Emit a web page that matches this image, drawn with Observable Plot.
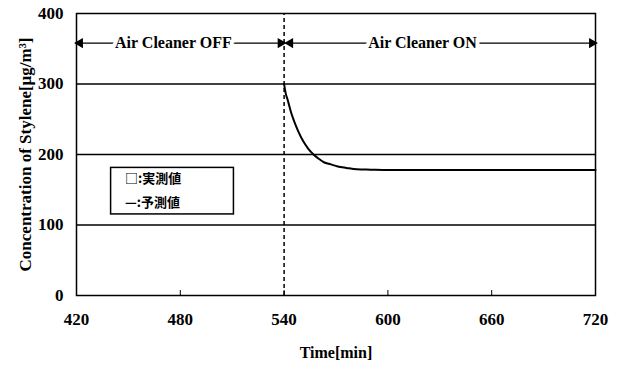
<!DOCTYPE html>
<html>
<head>
<meta charset="utf-8">
<script src="https://cdn.jsdelivr.net/npm/d3@7"></script>
<script src="https://cdn.jsdelivr.net/npm/@observablehq/plot@0.6"></script>
<style>
  html, body { margin: 0; padding: 0; background: white; }
  #chart svg, #chart svg text { font-family: "Liberation Serif", "Times New Roman", serif !important; }
  #chart svg text.cjk, #chart svg .cjk text { font-family: "Noto Sans CJK JP", sans-serif !important; }
  #chart g[aria-label="y-axis label"] text { font-size: 17px; }
  #chart g[aria-label="y-axis tick label"] text, #chart g[aria-label="x-axis tick label"] text { font-size: 17px; }
</style>
</head>
<body>
<div id="chart"></div>
<script>
// Predicted concentration (予測値) of styrene after air cleaner switched on
const times = [540, 541, 542, 544, 546, 548, 551, 554, 557, 560, 563, 567, 571, 576, 582, 590, 600, 640, 680, 720];
const conc  = [300, 286, 278, 260, 246, 234, 219, 208, 200, 194, 189, 186, 183, 181, 179, 178.5, 178, 178, 178, 178];
const xTicks = [420, 480, 540, 600, 660, 720];
const yTicks = [0, 100, 200, 300, 400];
const gridValues = [100, 200, 300];
const switchTime = 540;
const phaseLabels = ["Air Cleaner OFF", "Air Cleaner ON"];
const legendLabels = ["□:実測値", "—:予測値"];

const curve = times.map((t, i) => ({t, c: conc[i]}));

const arrowSegs = [{a: 420, b: switchTime}, {a: switchTime + 1.5, b: 720}];
const heads = [
  {x: 422, dir: -90}, {x: switchTime - 2, dir: 90},
  {x: switchTime + 3.5, dir: -90}, {x: 718, dir: 90}
];

const chart = Plot.plot({
  width: 626,
  height: 365,
  marginLeft: 76,
  marginRight: 31,
  marginTop: 13,
  marginBottom: 70,
  style: {fontSize: "16px", fontWeight: "bold", background: "white", color: "black"},
  x: {domain: [420, 720], ticks: xTicks, tickSize: 0, tickPadding: 17, label: "Time[min]", labelAnchor: "center", labelOffset: 62, labelArrow: "none"},
  y: {domain: [0, 400], ticks: yTicks, tickSize: 0, tickPadding: 13, label: "Concentration of Stylene[μg/m³]", labelAnchor: "center", labelOffset: 58, labelArrow: "none"},
  marks: [
    Plot.ruleY(gridValues, {stroke: "black", strokeWidth: 1.4}),
    Plot.ruleX(xTicks.slice(1, -1), {y1: 0, y2: 7, stroke: "black", strokeWidth: 1}),
    Plot.ruleX([switchTime], {y1: 0, y2: 400, stroke: "black", strokeWidth: 1.5, strokeDasharray: "4,3"}),
    // phase arrows
    Plot.link(arrowSegs, {x1: "a", x2: "b", y1: 358, y2: 358, stroke: "black", strokeWidth: 1.3}),
    Plot.dot(heads, {x: "x", y: 358, symbol: "triangle", rotate: "dir", r: 3.8, fill: "black", stroke: "none"}),
    Plot.text([{x: 476, label: phaseLabels[0]}, {x: 620, label: phaseLabels[1]}], {
      x: "x", y: 358, text: "label", fill: "black", stroke: "white", strokeWidth: 8,
      fontSize: 16, fontWeight: "bold"
    }),
    // legend box
    Plot.rect([{x1: 440, x2: 511, y1: 115, y2: 181}], {x1: "x1", x2: "x2", y1: "y1", y2: "y2", fill: "white", stroke: "black", strokeWidth: 1.5}),
    Plot.text(legendLabels, {
      x: 448, y: (d, i) => i === 0 ? 166 : 131, text: d => d, textAnchor: "start",
      fontSize: 13, fontWeight: "bold", fill: "black", className: "cjk"
    }),
    // predicted curve
    Plot.line(curve, {x: "t", y: "c", stroke: "black", strokeWidth: 2, curve: "monotone-x"}),
    Plot.frame({stroke: "black", strokeWidth: 1.5})
  ]
});
document.getElementById("chart").appendChild(chart);
</script>
</body>
</html>
